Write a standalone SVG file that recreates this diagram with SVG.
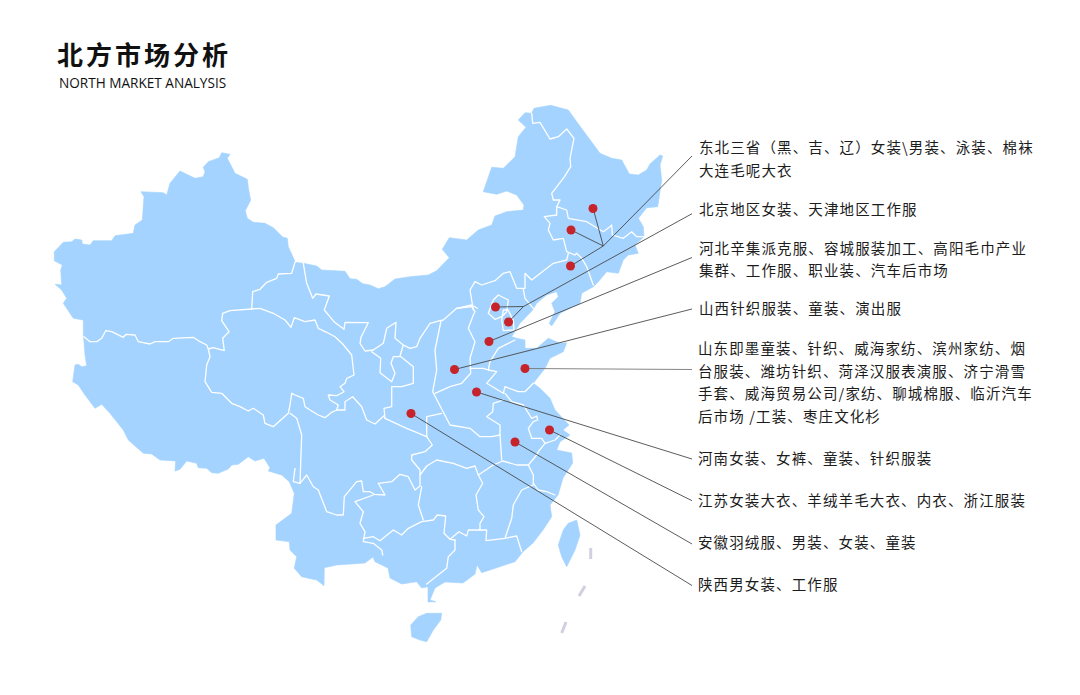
<svg xmlns="http://www.w3.org/2000/svg" width="1080" height="695" viewBox="0 0 1080 695">
<style>
.land{fill:#a3d3fe;stroke:#a3d3fe;stroke-width:.6;stroke-linejoin:round}
.b{fill:none;stroke:#fff;stroke-width:1.3;stroke-linejoin:round;stroke-linecap:round}
.isl{fill:none;stroke:#d2cfe2;stroke-width:3}
.c{fill:none;stroke:#4a4a4a;stroke-width:.9}
.d{fill:#c6232a}
.t{font-family:"Noto Sans CJK SC","Liberation Sans",sans-serif;font-size:14.5px;letter-spacing:1.12px;fill:#1c1c1c}
</style>
<rect width="1080" height="695" fill="#fff"/>
<g id="title">
<text x="57" y="65" style="font-family:'Noto Sans CJK SC',sans-serif;font-size:26px;font-weight:700;letter-spacing:3px;fill:#111">北方市场分析</text>
<text x="59" y="88" style="font-family:'Open Sans','Noto Sans',sans-serif;font-size:13.6px;fill:#111">NORTH MARKET ANALYSIS</text>
</g>
<g id="map">
<path class="land" d="M221.7 152.7L230 154.3 227.3 158.3 235 173.3 247.3 179.3 248.7 190 250.7 200 245.3 210.7 247.3 218.3 253.3 222.3 265 223.3 273.3 227.7 282.7 237 287.3 238.3 288.3 246.7 294.7 260.7 294 262.3 303.3 263.3 316.7 266 321.7 270 345 271.3 350 278.7 356.7 279.3 362.7 283.7 370 285 378.3 288.7 385 286.7 395 279 410 276.7 428.3 275 436.7 270.7 449.3 257.7 442.3 249.3 449.3 237.7 466.7 240 478.3 230 491.7 225 495 216 506.7 211.7 523.3 210 524 205 516.7 195 506.7 191 496.7 194.3 483.3 191.7 491.7 167.3 503.3 168.3 515 156.7 518.3 136.7 526 127.3 518.3 120 525 112.7 531.7 113.3 534 108.3 550.7 105.3 568.3 110 576.7 121.7 600 153.3 611.7 158.3 621.7 160 629.3 174 638.3 175 646.7 170 650 164 660 155 662.7 156 660 165 661.7 180 657.7 206.7 646.7 207.7 638.3 218.3 643.3 226.7 644 236.7 635 245 638.3 253.3 628.3 255 623.3 260 618.3 273.3 606.7 271.7 598.3 281.7 593.3 286.7 581.7 293.3 580 303.3 560 313.3 551.7 326 549.3 323.3 555 311.7 551.7 303.3 558.3 296.7 556.7 291.7 546.7 295 536.7 303.3 532.7 310 520 323.3 511.7 336.7 516.7 338.3 525 340 525 348.3 536.7 348.3 548.3 338.3 560 343.3 566.7 342.7 563.3 351.7 550 358.3 545 368.3 533.3 383.3 540 388.3 550 398.3 555 410 569 425 563 430 570 435 560 441.7 556.7 450 571.7 453 572.7 463 563 478 558 495 550 505 551.7 516.7 543 530 533 543 523 551.7 515 561.7 490 570 481.7 572.7 477 565 475 574 463 583 445 582 435 588 430 600 436 601.7 428 602 428 586.7 421.7 588 416.7 581.7 401.7 584 390 578 388 568 375 561.7 373 557 365 563 336.7 565 324.3 567.7 324 585.7 316.7 580 311.7 579 301.7 576.7 294.3 568.3 296.7 556.7 290 550 289.3 541.7 276 540 276 525 291.7 513.3 294.3 493.3 289.3 481.7 281.7 475 268.3 471 270 467.7 264 458.3 255 461 248.3 456.7 238.3 464.3 231.7 465 228.3 469 218.3 473.3 211.7 472.7 206.7 468.3 198.3 467.7 196.7 463.3 186.7 461 180 469.3 175 471 175.7 461 160 460 151.7 454 143.3 453.3 128.3 440 123.3 430 116.7 421.7 110 413.3 101.7 404.3 95 408.3 85 395 78.3 385 72.7 381.7 75 365 78.3 364.3 81.7 366.7 86.7 365.7 85 355 84 341.7 83.3 335 83.3 320 73.3 318.3 63.3 303.3 66.7 298.3 61.7 290 55 284.3 61.7 285 60.7 270 62.3 265 54.3 260.7 54.3 251.7 63.3 242.3 71.7 241.7 75 239 81.7 240 82.3 244 90 245 93.3 240.7 111.7 240.7 115 235.7 133.3 233.3 135 225 142.3 220 144 196.7 141 191.7 163.3 192.7 166.7 195 170 183.3 180 171 195 178.3 203.3 176.7 205 171.7 203.3 167.3 208.3 161.7 219.3 157.7Z"/>
<path class="land" d="M410.7 625L418.3 616.7 426.7 613.3 441.7 613.3 440.7 620 433.3 630 426.7 641.7 420 640 411.7 636.7Z"/>
<path class="land" d="M576.7 520L580 535 575 550 566.7 566.7 561.7 556.7 558.3 545 563.3 530 568.3 523.3Z"/>
<g class="b">
<polyline points="84,336.7 90,341.7 96.7,341.7 101.7,338.3 105.7,330.7 111.7,331.7 123.3,337.3 126,334.3 135,335 138.3,341.7 150,344 155,341.7 168.3,341.7 173.3,338.3 193.3,337.3 200,341.7 206.7,345 208.3,349"/>
<polyline points="208.3,349 213.3,347.7 224.3,350.7 222.7,338.3 229,331.7 221.7,320.7 222.7,313.3 230,310.7 251.7,309 260,308.3 273.3,313.3 285,320 291,327.3 294.3,317.7 305,321.7 315,320 318.3,328.3 326.7,332.3 335,336.7 342.7,344 351.7,355 354,375 346.7,378.3 345,383.3 340,386.7 344,391.7 336.7,395.7 328.3,395 330,400 338.3,405 336.7,410 331.7,412.3 325,417.7 318.3,415 310,410 305,406.7 303.3,398.3 295,395 291.7,393.3 290,405 288.3,413.3 273.3,426.7 265,423.3 263.3,415 253.3,408.3 248.3,411 240,406.7 231.7,403.3 221.7,393.3 211.7,392.3 205,381.7 206.7,365 210,356.7 208.3,349"/>
<polyline points="251.7,309 252.7,291.7 260,289.3 266.7,282.3 276.7,278.3 278.3,274 291.7,273.3 295,262.3"/>
<polyline points="303.3,263.3 306.7,283.3 312.7,298.3 316,294 329.3,296 324.3,310 334,321.7 344,329.3 345,322.3 368.3,322.7 361,337.3 360,343.3 365,351 373.3,350 383.3,343.3 386.7,328.3 396,322.3 395,338.3 403.3,345 410,348.3 416.7,346.7 420,338.3 430,323.3 440,320.7 443.3,320 456.7,308.3 471.7,305 477.3,308.3"/>
<polyline points="371.7,351.7 380.7,358.3 380,372.7 391.7,381.7 395,373.3 391,363.3 393.3,356.7 400,356.7"/>
<polyline points="403.3,345 400,356 413.3,366.7 413.3,383.3 401.7,386.7 391.7,386.7 391.7,406.7 384,408.3 385,418.3"/>
<polyline points="336.7,410 345,410 345,401.7 352.7,396.7 361.7,406.7 366.7,420 375,424 384,415.7"/>
<polyline points="441,321 435,350 436.7,370 432.7,391.7 450,425 470,428.3 480,436.7 491.7,436.7 500,435 500,425 486.7,416.7 492.7,411.7 493.3,403.3 503.3,400"/>
<polyline points="456.7,308.3 471.7,306.7 475,311.7 473.3,315 468.3,328.3 475,341.7 470,358.3 470.7,373.3 461.7,383.3 450,386.7 435,393.3"/>
<polyline points="473.3,310 470,290 475,281.7 481.7,285 495,280.7 503.3,273.3 510,271.7 516.7,288.3 525,288.3 525,273.3 531.7,280 553.3,263.3 566.7,260 568.3,253.3"/>
<polyline points="523.3,289 525,298.3 533.3,308.3"/>
<polyline points="470,368.3 483.3,368.3 488.3,370 496.7,371.7 486.7,383.3 495,388.3 503.3,393.3 505,386.7 518.3,391.7 525,391.7 533.3,383.3"/>
<polyline points="515,340 498.3,348.3 490,361.7 488.3,370"/>
<path d="M488.3 313.3L493.3 300 498.3 295 508.3 300 506.7 311.7 501.7 316.7 495 319.3Z"/>
<path d="M503.3 310L508 310 513.3 320 514 330 503.3 330.7 501.7 320Z"/>
<polyline points="531.7,113.3 532.7,123.3 540,122.3 550,139 558.3,136.7 566.7,129 574,138.3 570,158.3 570.7,166.7 564,177.3 551.7,193.3 553.3,200 560,200 556.7,206.7 566.7,210 568.3,218.3 586.7,221.7 603.3,231.7 610,226.7 611.7,225 612.3,235 623.3,238.3 631.7,231.7 636.7,236.7 644,236.7"/>
<polyline points="556.7,206.7 556.7,215 544.3,216.7 550,223.3 548.3,230 553.3,240 563.3,238.3 566.7,251.7 575,255 576.7,253.3 581.7,258.3 586.7,266.7 593.3,285"/>
<polyline points="290,413.3 296.7,418.3 301.7,435 300,483.3 293.3,481.7 295,468.3"/>
<polyline points="300,483.3 306.7,475 313.3,486.7 318.3,490 326.7,511.7 336.7,515 343.3,515 344.3,496.7 356.7,481.7 361.7,481 363.3,491.7 370,491.7 374.3,494.3 385,495 378.3,483.3 391.7,481.7 400,474.3 408.3,476.7 415,490 420,486 420,470 411.7,460 411.7,455 425,451.7 432.3,445 426.7,436.7 426.7,416.7 441.7,413.3"/>
<polyline points="385,418.3 406.7,428.3 426.7,436.7"/>
<polyline points="373.3,495 355,501.7 363.3,511.7 360,523.3 365,531.7 363.3,541.7 373.3,543.3 381.7,550 382.7,555"/>
<polyline points="363.3,538.3 373.3,536.7 380,540.7 393.3,530 401.7,535 408.3,528.3 421.7,521.7 433.3,520 437.3,515 445.7,516 444,533.3 450,539.3 459,531.7 466.7,536 468.3,530 486.7,530 486,540.7 505,538.3 516.7,536 521.7,551.7"/>
<polyline points="421.7,486.7 418.3,505 423.3,520"/>
<polyline points="420,475 426.7,466 436.7,460 453.3,463.3 466.7,468.3 475,466 478.3,475 482.7,483.3 476,495 478.3,510 484,516.7 480,523.3 480,530"/>
<polyline points="478.3,475 493.3,465 502.7,461 510,463 516.7,465 528.3,465 533.3,475 533.3,485 521.7,490 513.3,505 511.7,518.3 505,538.3"/>
<polyline points="533.3,483 538,490 546.7,491.7 555,495"/>
<polyline points="500,435 501.7,460"/>
<polyline points="505,393.3 511.7,401.7 523.3,405 531.7,418.3 536.7,416 537.7,420 533.3,421.7 528.3,428.3 531.7,438.3 541.7,438.3 545,443.3 538.3,451.7 536.7,455 528.3,465"/>
<polyline points="545,443.3 555,440 560,435"/>
<polyline points="455,540 455,550 448.3,556.7 446.7,568.3 426.7,584"/>
<polyline points="450,539.3 455,540"/>
</g>
<g class="isl">
<line x1="590.7" y1="548" x2="590.7" y2="559"/>
<line x1="585" y1="586" x2="579" y2="596"/>
<line x1="566" y1="622" x2="561.7" y2="633"/>
</g>
</g>
<g id="connectors" class="c">
<polyline points="692,156 603.3,246 593,208"/>
<line x1="603.3" y1="246" x2="571" y2="230"/>
<line x1="603.3" y1="246" x2="570.5" y2="266"/>
<polyline points="692,213.7 523.5,306.5 495.5,307"/>
<line x1="523.5" y1="306.5" x2="508.5" y2="322"/>
<line x1="489" y1="341.5" x2="692" y2="257.5"/>
<line x1="454.5" y1="369.5" x2="692" y2="309"/>
<line x1="525" y1="368.5" x2="692" y2="369.5" stroke="#777"/>
<line x1="476.5" y1="392" x2="692" y2="459"/>
<line x1="549.5" y1="430" x2="692" y2="500.7"/>
<line x1="515" y1="442" x2="692" y2="544"/>
<line x1="411" y1="413.5" x2="692" y2="585.5"/>
</g>
<g id="node-dongbei"><circle class="d" cx="593" cy="208.5" r="4.5"/><circle class="d" cx="571" cy="230" r="4.5"/><circle class="d" cx="570.5" cy="266" r="4.5"/>
<text class="t" x="699" y="153">东北三省（黑、吉、辽）女装\男装、泳装、棉袜</text><text class="t" x="699" y="176">大连毛呢大衣</text></g>
<g id="node-beijing"><circle class="d" cx="495.5" cy="307" r="4.5"/><circle class="d" cx="508.5" cy="322" r="4.5"/>
<text class="t" x="699" y="215">北京地区女装、天津地区工作服</text></g>
<g id="node-hebei"><circle class="d" cx="489" cy="341.5" r="4.5"/>
<text class="t" x="699" y="254">河北辛集派克服、容城服装加工、高阳毛巾产业</text><text class="t" x="699" y="276">集群、工作服、职业装、汽车后市场</text></g>
<g id="node-shanxi"><circle class="d" cx="454.5" cy="369.5" r="4.5"/>
<text class="t" x="699" y="314">山西针织服装、童装、演出服</text></g>
<g id="node-shandong"><circle class="d" cx="525" cy="368.5" r="4.5"/>
<text class="t" x="698" y="354">山东即墨童装、针织、威海家纺、滨州家纺、烟</text><text class="t" x="698" y="376.5">台服装、潍坊针织、菏泽汉服表演服、济宁滑雪</text><text class="t" x="698" y="399">手套、威海贸易公司/家纺、聊城棉服、临沂汽车</text><text class="t" x="698" y="421.5">后市场 /工装、枣庄文化杉</text></g>
<g id="node-henan"><circle class="d" cx="476.5" cy="392" r="4.5"/>
<text class="t" x="698" y="464">河南女装、女裤、童装、针织服装</text></g>
<g id="node-jiangsu"><circle class="d" cx="549.5" cy="430" r="4.5"/>
<text class="t" x="698" y="506">江苏女装大衣、羊绒羊毛大衣、内衣、浙江服装</text></g>
<g id="node-anhui"><circle class="d" cx="515" cy="442" r="4.5"/>
<text class="t" x="698" y="548">安徽羽绒服、男装、女装、童装</text></g>
<g id="node-shaanxi"><circle class="d" cx="411" cy="413.5" r="4.5"/>
<text class="t" x="698" y="590">陕西男女装、工作服</text></g>
</svg>
